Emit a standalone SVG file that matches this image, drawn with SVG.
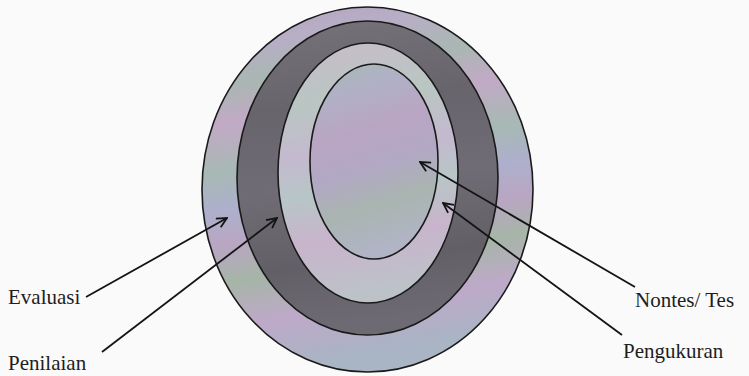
<svg xmlns="http://www.w3.org/2000/svg" width="749" height="376" viewBox="0 0 749 376">
  <defs>
    <style>
      .ring { stroke: #1a1a1a; stroke-width: 1.6; }
      .conn { stroke: #141414; stroke-width: 1.8; fill: none; marker-end: url(#arrow); }
      .label { font-family: Liberation Serif, DejaVu Serif, Noto Serif, Times New Roman, Times, serif; font-size: 21px; fill: #1e1e1e; }
    </style>
    <marker id="arrow" viewBox="0 0 12 12" refX="11" refY="6" markerWidth="12" markerHeight="12" markerUnits="userSpaceOnUse" orient="auto">
      <path d="M1,1 L11,6 L1,11" fill="none" stroke="#141414" stroke-width="1.8"/>
    </marker>
    <linearGradient id="gOuter" x1="0" y1="0" x2="0.15" y2="1">
      <stop offset="0" stop-color="#b3a5bf"/>
      <stop offset="0.12" stop-color="#b8aec6"/>
      <stop offset="0.22" stop-color="#a9b7b2"/>
      <stop offset="0.32" stop-color="#c2a9c6"/>
      <stop offset="0.45" stop-color="#a7b9b4"/>
      <stop offset="0.55" stop-color="#adb0cc"/>
      <stop offset="0.65" stop-color="#b9a6c3"/>
      <stop offset="0.75" stop-color="#a6b5a7"/>
      <stop offset="0.87" stop-color="#bea9c9"/>
      <stop offset="1" stop-color="#a9b4c4"/>
    </linearGradient>
    <linearGradient id="gDark" x1="0" y1="0" x2="0.1" y2="1">
      <stop offset="0" stop-color="#75727a"/>
      <stop offset="0.3" stop-color="#67646c"/>
      <stop offset="0.55" stop-color="#706c75"/>
      <stop offset="0.8" stop-color="#626066"/>
      <stop offset="1" stop-color="#6e6a74"/>
    </linearGradient>
    <linearGradient id="gLight" x1="0" y1="0" x2="0.1" y2="1">
      <stop offset="0" stop-color="#c9bcc9"/>
      <stop offset="0.25" stop-color="#b9c6c2"/>
      <stop offset="0.45" stop-color="#c4b9cf"/>
      <stop offset="0.6" stop-color="#b7c6c6"/>
      <stop offset="0.78" stop-color="#c8b4cc"/>
      <stop offset="1" stop-color="#bcc2c8"/>
    </linearGradient>
    <linearGradient id="gInner" x1="0" y1="0" x2="0.2" y2="1">
      <stop offset="0" stop-color="#a8bab2"/>
      <stop offset="0.2" stop-color="#b0b0c6"/>
      <stop offset="0.4" stop-color="#b9a5c3"/>
      <stop offset="0.6" stop-color="#b2a8c4"/>
      <stop offset="0.8" stop-color="#a9b5b0"/>
      <stop offset="1" stop-color="#b0b4c4"/>
    </linearGradient>
  </defs>

  <rect width="749" height="376" fill="#fafafa"/>

  <g id="evaluasi-ring">
    <ellipse class="ring" cx="367.5" cy="189.5" rx="165.5" ry="182.5" fill="url(#gOuter)"/>
  </g>
  <g id="penilaian-ring">
    <ellipse class="ring" cx="367.5" cy="178" rx="130.5" ry="157" fill="url(#gDark)"/>
  </g>
  <g id="pengukuran-ring">
    <ellipse class="ring" cx="368" cy="173" rx="90" ry="130" fill="url(#gLight)"/>
  </g>
  <g id="nontes-tes-core">
    <ellipse class="ring" cx="374" cy="161.5" rx="64" ry="97.5" fill="url(#gInner)"/>
  </g>

  <g id="connectors">
    <line class="conn" x1="86" y1="297" x2="227" y2="218"/>
    <line class="conn" x1="102" y1="352" x2="277" y2="218"/>
    <line class="conn" x1="635" y1="287" x2="420" y2="162"/>
    <line class="conn" x1="622" y1="335" x2="443" y2="203"/>
  </g>

  <g id="labels">
    <text class="label" x="8" y="304">Evaluasi</text>
    <text class="label" x="8" y="370">Penilaian</text>
    <text class="label" x="635" y="307">Nontes/ Tes</text>
    <text class="label" x="623" y="358">Pengukuran</text>
  </g>
</svg>
